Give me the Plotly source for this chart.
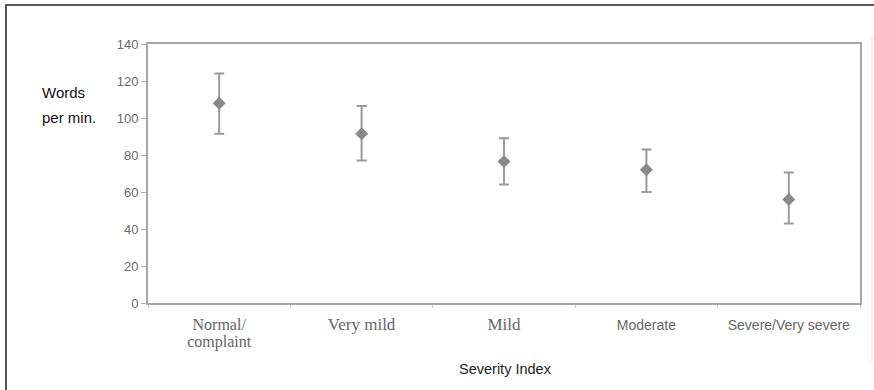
import plotly.graph_objects as go

categories = ["Normal/ complaint", "Very mild", "Mild", "Moderate", "Severe/Very severe"]
tick_labels = [
    '<span style="font-family:Liberation Serif;font-size:16px">Normal/<br>complaint</span>',
    '<span style="font-family:Liberation Serif;font-size:17px">Very mild</span>',
    '<span style="font-family:Liberation Serif;font-size:17px">Mild</span>',
    '<span style="font-family:Liberation Sans;font-size:14px">Moderate</span>',
    '<span style="font-family:Liberation Sans;font-size:14px">Severe/Very severe</span>',
]
means = [108, 91.5, 76.5, 72, 56]
upper = [124, 106.5, 89, 83, 70.5]
lower = [91.5, 77, 64, 60, 43]
y_ticks = [0, 20, 40, 60, 80, 100, 120, 140]

err_plus = [u - m for u, m in zip(upper, means)]
err_minus = [m - l for m, l in zip(means, lower)]

W, H = 874, 390
L, R, T, B = 148, 14, 44, 87
PW, PH = W - L - R, H - T - B


def px_x(x):
    return (x - L) / PW


def px_y(y):
    return (H - B - y) / PH


fig = go.Figure()
fig.add_trace(go.Scatter(
    x=categories, y=means, mode="markers",
    marker=dict(symbol="diamond", size=10, color="#8a8a8a"),
    error_y=dict(type="data", symmetric=False, array=err_plus, arrayminus=err_minus,
                 color="#9a9a9a", thickness=2, width=5),
    showlegend=False,
))

fig.update_layout(
    width=W, height=H, autosize=False,
    margin=dict(l=L, r=R, t=T, b=B),
    paper_bgcolor="white", plot_bgcolor="white",
    font=dict(family="Liberation Sans", size=13, color="#6a6a6a"),
    xaxis=dict(
        type="category", categoryorder="array", categoryarray=categories,
        range=[-0.5, len(categories) - 0.5],
        tickmode="array", tickvals=categories, ticktext=tick_labels,
        tickson="boundaries", ticks="outside", ticklen=3, tickcolor="#cccccc",
        ticklabelstandoff=9,
        showline=True, linecolor="#a6a6a6", linewidth=2, mirror=True,
        showgrid=False, zeroline=False, tickfont=dict(color="#666666"),
    ),
    yaxis=dict(
        range=[0, 140], tickmode="array", tickvals=y_ticks,
        ticks="outside", ticklen=5, tickcolor="#b0b0b0",
        showline=True, linecolor="#a6a6a6", linewidth=2, mirror=True,
        showgrid=False, zeroline=False,
        tickfont=dict(size=13, color="#6a6a6a"),
    ),
    annotations=[
        dict(text="Words", xref="paper", yref="paper", x=px_x(40), y=px_y(92),
             xanchor="left", yanchor="middle", showarrow=False,
             font=dict(family="Liberation Sans", size=15, color="#111111")),
        dict(text="per min.", xref="paper", yref="paper", x=px_x(40), y=px_y(117),
             xanchor="left", yanchor="middle", showarrow=False,
             font=dict(family="Liberation Sans", size=15, color="#111111")),
        dict(text="Severity Index", xref="paper", yref="paper", x=px_x(505), y=px_y(369),
             xanchor="center", yanchor="middle", showarrow=False,
             font=dict(family="Liberation Sans", size=14.5, color="#222222")),
    ],
    shapes=[
        dict(type="line", xref="paper", yref="paper", x0=px_x(5), x1=px_x(874),
             y0=px_y(5), y1=px_y(5), line=dict(color="#222222", width=1.5)),
        dict(type="line", xref="paper", yref="paper", x0=px_x(6), x1=px_x(6),
             y0=px_y(390), y1=px_y(5), line=dict(color="#555555", width=2)),
        dict(type="line", xref="paper", yref="paper", x0=px_x(872), x1=px_x(872),
             y0=px_y(362), y1=px_y(35), line=dict(color="#e2e2e2", width=1)),
    ],
)

post = (
    "document.body.style.margin='0';"
    "document.body.style.overflow='hidden';"
    "var gd=document.getElementById('{plot_id}');"
    "Plotly.relayout(gd,{width:874,height:390});"
)

fig.write_html(
    "out.html",
    config={"displayModeBar": False, "responsive": False},
    post_script=post,
)
